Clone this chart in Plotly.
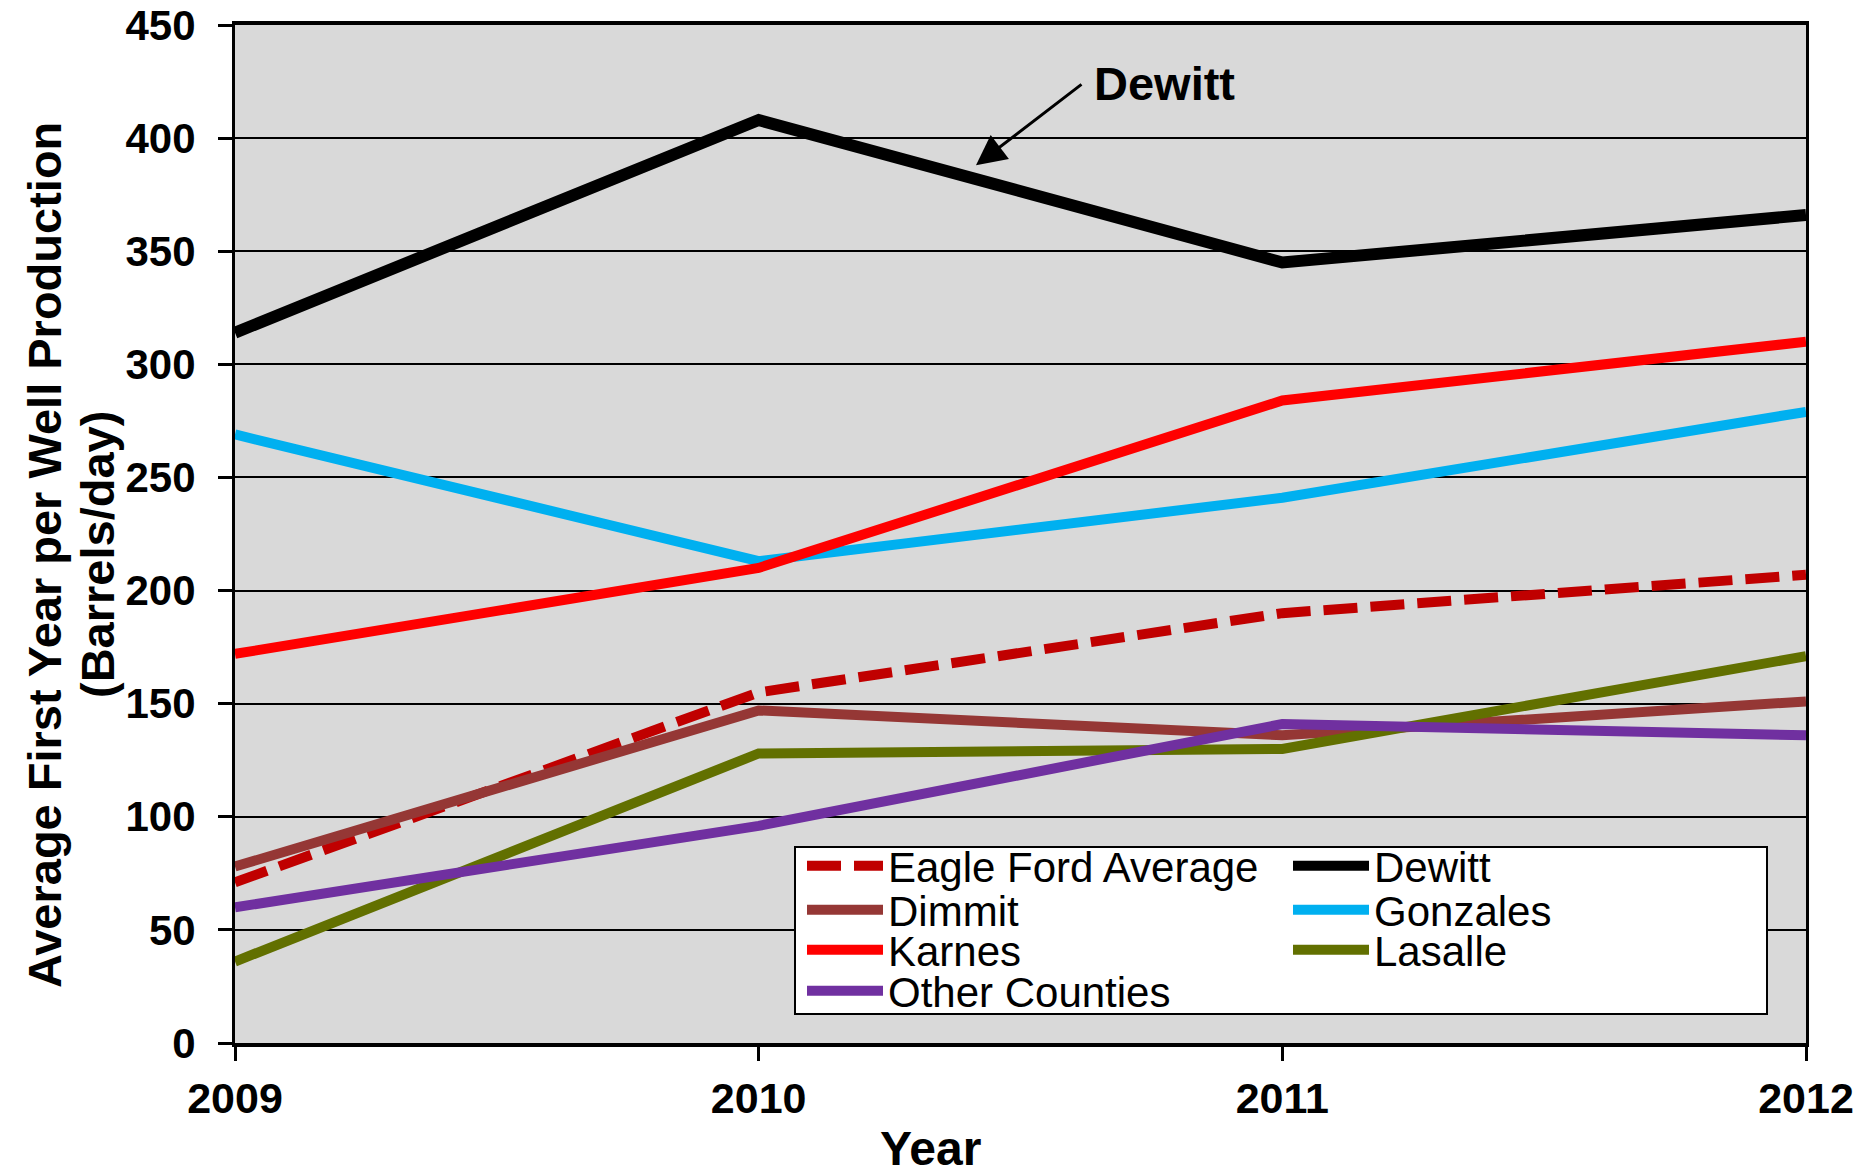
import plotly.graph_objects as go

years = [2009, 2010, 2011, 2012]

series_names = ["Eagle Ford Average", "Dewitt", "Dimmit", "Gonzales", "Karnes", "Lasalle", "Other Counties"]
eagle_ford_avg = [71, 155, 190, 207]
dewitt = [314, 408, 345, 366]
dimmit = [78, 147, 136, 151]
gonzales = [269, 213, 241, 279]
karnes = [172, 210, 284, 310]
lasalle = [36, 128, 130, 171]
other_counties = [60, 96, 141, 136]

values = [eagle_ford_avg, dewitt, dimmit, gonzales, karnes, lasalle, other_counties]
colors = ["#C00000", "#000000", "#953735", "#00B0F0", "#FF0000", "#627000", "#7030A0"]
widths = [10, 12, 10, 10, 10, 10, 10]
dashes = ["34px,13px", "solid", "solid", "solid", "solid", "solid", "solid"]

FONT = "Liberation Sans, Arial, sans-serif"
W, H = 1857, 1171
ML, MR, MT, MB = 235, 51, 25, 128
PW, PH = W - ML - MR, H - MT - MB


def px_to_paper_x(px):
    return (px - ML) / PW


def px_to_paper_y(py):
    return (H - MB - py) / PH


# legend layout (two columns, row-major order)
leg_cols_x = [802, 1288]
leg_rows_y = [866, 910, 950, 991]

fig = go.Figure()
layout_legends = {}
for i, (name, vals, col, w, d) in enumerate(zip(series_names, values, colors, widths, dashes)):
    key = "legend" if i == 0 else f"legend{i + 1}"
    fig.add_trace(go.Scatter(
        x=years, y=vals, mode="lines", name=name,
        line=dict(color=col, width=w, dash=d),
        legend=key, showlegend=True,
    ))
    r, c = divmod(i, 2)
    layout_legends[key] = dict(
        x=px_to_paper_x(leg_cols_x[c]), y=px_to_paper_y(leg_rows_y[r]),
        xanchor="left", yanchor="middle",
        bgcolor="rgba(0,0,0,0)", borderwidth=0,
        font=dict(family=FONT, size=42, color="#000000"),
        itemwidth=76, tracegroupgap=0,
    )

fig.update_layout(**layout_legends)

# legend frame
fig.add_shape(
    type="rect", xref="paper", yref="paper",
    x0=px_to_paper_x(795), x1=px_to_paper_x(1767),
    y0=px_to_paper_y(1014), y1=px_to_paper_y(847),
    fillcolor="#FFFFFF", line=dict(color="#000000", width=2), layer="above",
)

# "Dewitt" callout: label + arrow
fig.add_annotation(
    x=px_to_paper_x(1164), y=px_to_paper_y(84), xref="paper", yref="paper",
    text="<b>Dewitt</b>", showarrow=False, xanchor="center", yanchor="middle",
    font=dict(family=FONT, size=47, color="#000000"),
)
fig.add_annotation(
    x=2010.415, y=388, xref="x", yref="y",
    text="", showarrow=True,
    ax=107, ay=-82, axref="pixel", ayref="pixel",
    arrowhead=2, arrowsize=2, arrowwidth=3, arrowcolor="#000000",
)

# axis titles
fig.add_annotation(
    x=px_to_paper_x(44), y=px_to_paper_y(555), xref="paper", yref="paper",
    text="<b>Average First Year per Well Production</b>", textangle=-90,
    showarrow=False, xanchor="center", yanchor="middle",
    font=dict(family=FONT, size=47, color="#000000"),
)
fig.add_annotation(
    x=px_to_paper_x(97), y=px_to_paper_y(555), xref="paper", yref="paper",
    text="<b>(Barrels/day)</b>", textangle=-90,
    showarrow=False, xanchor="center", yanchor="middle",
    font=dict(family=FONT, size=47, color="#000000"),
)
fig.add_annotation(
    x=px_to_paper_x(930), y=px_to_paper_y(1148), xref="paper", yref="paper",
    text="<b>Year</b>", showarrow=False, xanchor="center", yanchor="middle",
    font=dict(family=FONT, size=48, color="#000000"),
)

fig.update_layout(
    width=W, height=H,
    margin=dict(l=ML, r=MR, t=MT, b=MB, autoexpand=False),
    paper_bgcolor="#FFFFFF", plot_bgcolor="#D9D9D9",
    font=dict(family=FONT, color="#000000"),
    xaxis=dict(
        range=[2009, 2012], tickmode="array", tickvals=years,
        ticktext=[str(y) for y in years],
        showgrid=False, zeroline=False,
        showline=True, linecolor="#000000", linewidth=4, mirror=True,
        ticks="outside", ticklen=14, tickwidth=3, tickcolor="#000000",
        tickfont=dict(family=FONT, size=43, color="#000000", weight="bold"),
        ticklabelstandoff=0,
        automargin=False,
    ),
    yaxis=dict(
        range=[0, 450], dtick=50, tick0=0,
        showgrid=True, gridcolor="#000000", gridwidth=1.5, zeroline=False,
        showline=True, linecolor="#000000", linewidth=3, mirror=True,
        ticks="outside", ticklen=14, tickwidth=3, tickcolor="#000000",
        tickfont=dict(family=FONT, size=42, color="#000000", weight="bold"),
        ticklabelstandoff=14,
        automargin=False,
    ),
)

fig.write_html(
    "out.html",
    config={"displayModeBar": False},
    post_script="document.body.style.margin='0px';document.body.style.overflow='hidden';",
)
